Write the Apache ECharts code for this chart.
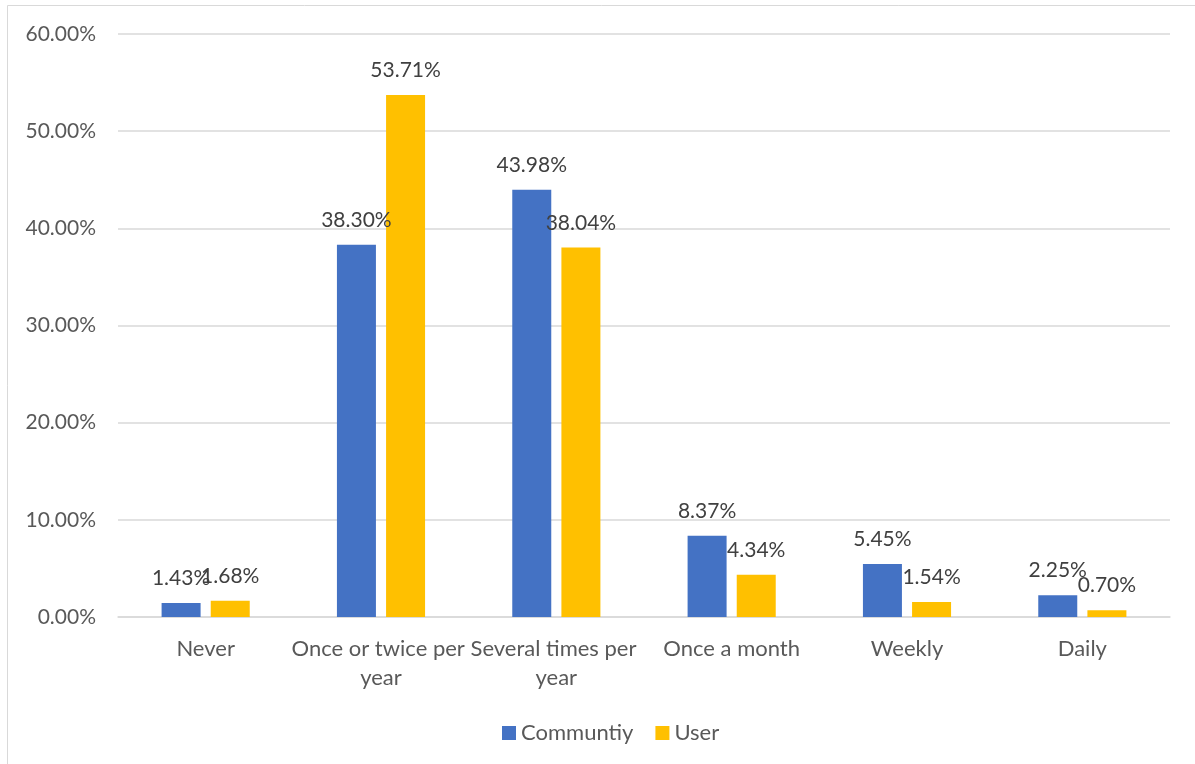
<!DOCTYPE html>
<html>
<head>
<meta charset="utf-8">
<script src="https://cdn.jsdelivr.net/npm/echarts@6/dist/echarts.min.js"></script>
<style>
html,body{margin:0;padding:0;background:#fff;}
#chart{width:1195px;height:764px;}
</style>
</head>
<body>
<div id="chart"></div>
<script>
var categories = ["Never", "Once or twice per year", "Several times per year", "Once a month", "Weekly", "Daily"];
var communityValues = [1.43, 38.30, 43.98, 8.37, 5.45, 2.25];
var userValues = [1.68, 53.71, 38.04, 4.34, 1.54, 0.70];
var seriesNames = ["Communtiy", "User"];

var FONT = "Lato, 'Open Sans', sans-serif";
var TXT = "#595959";

var chart = echarts.init(document.getElementById('chart'), null, {renderer: 'canvas'});
var labelCfg = {
  show: true,
  position: 'top',
  distance: 14,
  color: '#404040',
  fontFamily: FONT,
  fontSize: 21,
  formatter: function (p) { return p.value.toFixed(2) + '%'; }
};
chart.setOption({
  animation: false,
  backgroundColor: '#fff',
  graphic: [{
    type: 'rect',
    shape: {x: 7.5, y: 5.5, width: 1300, height: 900},
    style: {fill: 'none', stroke: '#D9D9D9', lineWidth: 1},
    silent: true
  }],
  grid: {left: 118, right: 25, top: 34, bottom: 147, containLabel: false},
  legend: {
    data: seriesNames,
    top: 717,
    left: 497,
    itemWidth: 14,
    itemHeight: 14,
    itemGap: 22,
    icon: 'rect',
    textStyle: {color: TXT, fontFamily: FONT, fontSize: 22}
  },
  xAxis: {
    type: 'category',
    data: categories,
    axisLine: {lineStyle: {color: '#D9D9D9', width: 1.5}},
    axisTick: {show: false},
    axisLabel: {
      color: TXT, fontFamily: FONT, fontSize: 22, margin: 17,
      interval: 0, width: 182, overflow: 'break', lineHeight: 29
    }
  },
  yAxis: {
    type: 'value',
    min: 0, max: 60, interval: 10,
    axisLine: {show: false},
    axisTick: {show: false},
    splitLine: {lineStyle: {color: '#D9D9D9', width: 1.5}},
    axisLabel: {
      color: TXT, fontFamily: FONT, fontSize: 21, margin: 22,
      formatter: function (v) { return v.toFixed(2) + '%'; }
    }
  },
  series: [
    {name: seriesNames[0], type: 'bar', data: communityValues, barWidth: 39, barGap: '26%',
     itemStyle: {color: '#4472C4'}, label: labelCfg},
    {name: seriesNames[1], type: 'bar', data: userValues, barWidth: 39,
     itemStyle: {color: '#FFC000'}, label: labelCfg}
  ]
});
</script>
</body>
</html>
